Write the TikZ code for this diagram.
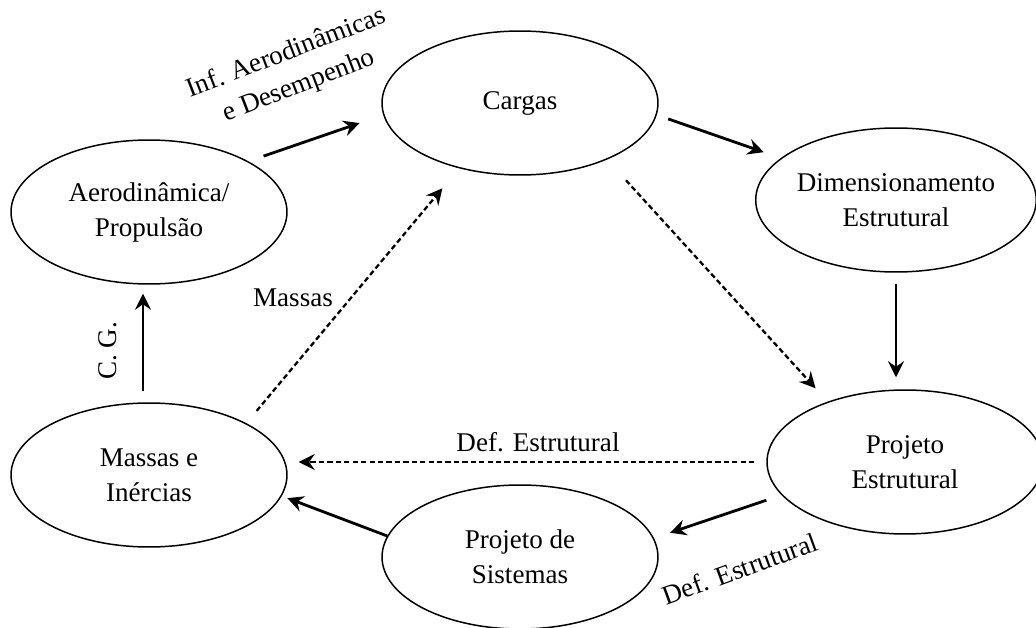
\documentclass[tikz,border=0pt]{standalone}
\usepackage{fontspec}
\setmainfont{Liberation Serif}
\usetikzlibrary{arrows.meta,shapes.geometric}
\tikzset{
	bloco/.style={draw, ellipse, line width=0.85pt, minimum width=5.52cm, minimum height=2.88cm, inner sep=0pt, align=center, font=\fontsize{15.4}{19.9}\selectfont},
	rotulo/.style={inner sep=0pt, align=center, font=\fontsize{15.4}{19.9}\selectfont},
	seta/.style={line width=1.6pt, -{Stealth[length=3.2mm, width=3.2mm, inset=1.1mm]}},
	setatrac/.style={line width=1.3pt, dash pattern=on 3pt off 1.8pt, -{Stealth[length=3.2mm, width=3.2mm, inset=1.1mm]}}
}

\begin{document}
\begin{tikzpicture}[x=0.02cm, y=-0.02cm]
		%%%%% START %%%%%
		\useasboundingbox (0, 0) rectangle (1036, 628);
		
		\node[bloco] (aero) at (149, 212) {Aerodinâmica/\\Propulsão};
		\node[bloco] (cargas) at (520, 103) {Cargas};
		\node[bloco] (dimest) at (896, 200) {Dimensionamento\\Estrutural};
		\node[bloco] (projest) at (905, 462) {Projeto\\Estrutural};
		\node[bloco] (projsis) at (520, 557) {Projeto de\\Sistemas};
		\node[bloco] (massas) at (149, 475) {Massas e\\Inércias};
		
		\draw[seta, shorten <=0.32cm, shorten >=0.5cm] (aero.27) -- (cargas.185);
		\draw[seta, shorten <=0.24cm, shorten >=0.36cm] (cargas.-5) -- (dimest.160);
		\draw[seta, shorten <=0.22cm, shorten >=0.24cm] (dimest.south) -- (dimest.south |- projest.north);
		\draw[setatrac, shorten <=0.56cm, shorten >=0.36cm] (cargas.-33) -- (projest.142);
		\draw[setatrac, shorten <=0.24cm, shorten >=0.22cm] (projest.west) -- (projest.west -| massas.east);
		\draw[seta, shorten <=0.32cm, shorten >=0.34cm] (projest.195) -- (projsis.8);
		\draw[seta, shorten >=0.12cm] (projsis.171) -- (massas.-9);
		\draw[setatrac, shorten <=0.32cm, shorten >=0.52cm] (massas.28) -- (cargas.227);
		\draw[seta, shorten <=0.22cm, shorten >=0.18cm] ([xshift=-1.2mm]massas.north) -- ([xshift=-1.2mm]aero.south);
		
		\node[rotulo, rotate=21] (infaero) at (293, 70) {Inf. Aerodinâmicas\\e Desempenho};
		\node[rotulo] (lmassas) at (293, 298) {Massas};
		\node[rotulo, rotate=90] (cg) at (108, 351) {C. G.};
		\node[rotulo] (defest) at (538, 442) {Def. Estrutural};
		\node[rotulo, rotate=20] (defest2) at (740, 569) {Def. Estrutural};
		
		%%%%% END %%%%%
\end{tikzpicture}
\end{document}
